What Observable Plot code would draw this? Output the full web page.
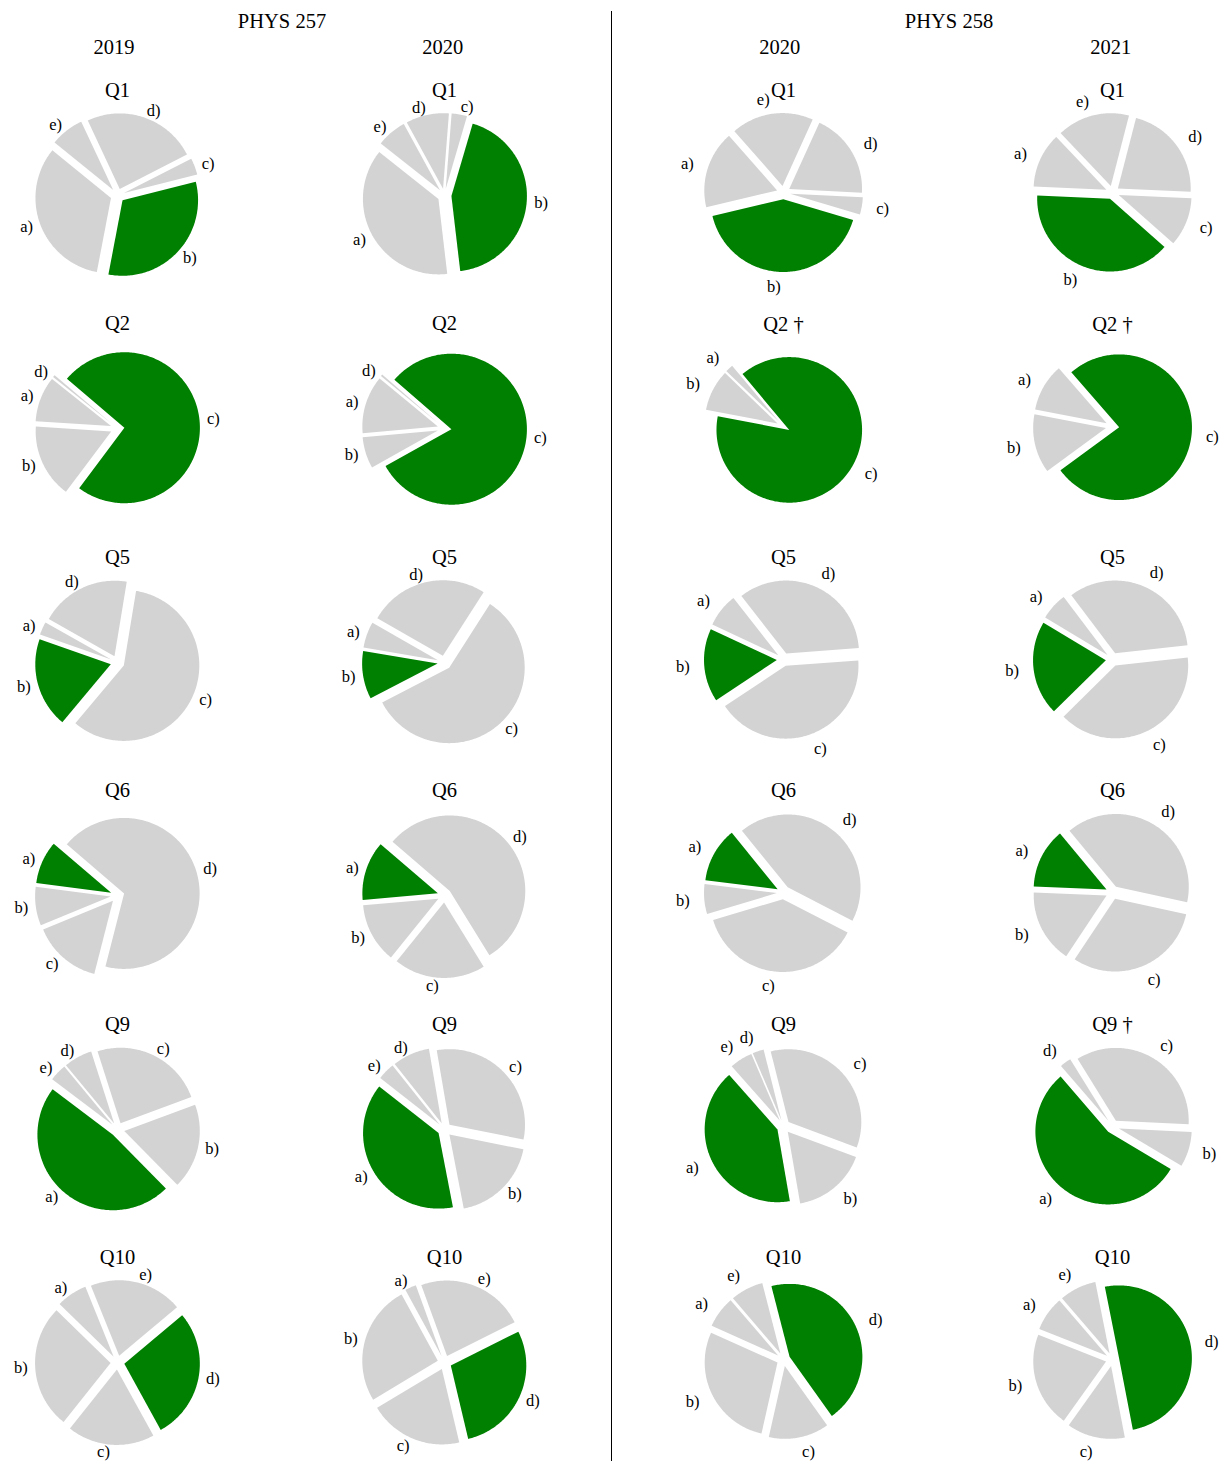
<!DOCTYPE html>
<html>
<head>
<meta charset="utf-8">
<script src="https://cdn.jsdelivr.net/npm/d3@7"></script>
<script src="https://cdn.jsdelivr.net/npm/@observablehq/plot@0.6"></script>
<style>
  body { margin: 0; background: #fff; }
  #chart { position: relative; width: 1222px; height: 1461px; font-family: "Liberation Serif", serif; color: #000; overflow: hidden; }
  .hdr { position: absolute; font-size: 20.5px; line-height: 1; white-space: nowrap; transform: translate(-50%, -50%); }
  .pie { position: absolute; width: 320px; height: 232px; }
  .pie svg { max-width: none !important; }
  #divider { position: absolute; left: 610.5px; top: 11px; width: 1.2px; height: 1450px; background: #000; }
</style>
</head>
<body>
<div id="chart"><div id="divider"></div></div>
<script>
// ---------------- data ----------------
const courses = ["PHYS 257", "PHYS 258"];
const columnCourse = [0, 0, 1, 1];
const columnYear = ["2019", "2020", "2020", "2021"];
const questions = ["Q1", "Q2", "Q5", "Q6", "Q9", "Q10"];
const daggerColumns = { Q2: [2, 3], Q9: [3] };
const options = ["a)", "b)", "c)", "d)", "e)"];
const correctAnswer = ["b)", "c)", "b)", "a)", "a)", "d)"];

// answer shares (%) per column: PHYS257 2019, PHYS257 2020, PHYS258 2020, PHYS258 2021
const sharesQ1  = [[32.8, 31.9, 3.6, 24.4, 7.2], [37.5, 43.6, 3.3, 9.2, 6.4], [17.2, 41.7, 3.8, 19.0, 18.3], [12.2, 39.2, 10.8, 21.7, 16.1]];
const sharesQ2  = [[9.7, 15.8, 74.0, 0.5], [12.4, 6.7, 80.5, 0.4], [1.7, 9.2, 89.1], [10.6, 13.1, 76.4]];
const sharesQ5  = [[2.8, 19.3, 58.5, 19.4], [5.6, 10.3, 58.3, 25.8], [7.5, 16.3, 41.9, 34.4], [6.1, 21.0, 39.4, 33.5]];
const sharesQ6  = [[9.2, 8.3, 14.8, 67.8], [12.7, 12.8, 19.6, 54.9], [12.2, 6.6, 37.8, 43.4], [13.3, 16.3, 30.9, 39.4]];
const sharesQ9  = [[47.7, 18.3, 24.3, 6.1, 3.7], [38.7, 18.8, 30.9, 8.0, 3.7], [41.2, 16.6, 34.6, 2.5, 5.1], [55.1, 7.8, 34.6, 2.5]];
const sharesQ10 = [[6.6, 26.6, 18.7, 28.1, 20.0], [2.4, 25.7, 20.1, 28.7, 23.2], [7.0, 28.2, 13.4, 44.2, 7.3], [7.7, 21.1, 12.9, 50.1, 8.2]];
const shares = [sharesQ1, sharesQ2, sharesQ5, sharesQ6, sharesQ9, sharesQ10];

// start angle (degrees, counter-clockwise from 3 o'clock) of slice a) in each pie
const startQ1  = [141, 141.7, 131.4, 133.5];
const startQ2  = [141.4, 140.5, 130, 131.1];
const startQ5  = [150.5, 150.2, 128, 127];
const startQ6  = [139.5, 139.3, 129, 129.7];
const startQ9  = [143, 141.8, 131.5, 130.8];
const startQ10 = [112, 110, 130.7, 130.8];
const starts = [startQ1, startQ2, startQ5, startQ6, startQ9, startQ10];

// ---------------- layout ----------------
const colX = [117.3, 444, 782.5, 1111.5];
const ROW_STEP = 233.4;
const titleY0 = 90;                  // title centre of the first row
const pieY0 = [195, 192.2];          // pie centre of the first row, per course
const radiusPx = [75.5, 72.8];       // pie radius per course
const labelDist = [1.1, 1.2];        // label distance (radii) per course
const EXPLODE = 0.092;               // radial offset of every wedge (radii)
const courseX = [282, 949];
const yearX = [113.9, 442.8, 779.8, 1110.8];
const W = 320, H = 232, CX = 160, CY = 118;
const GREEN = "green", GRAY = "lightgray";

const chart = document.getElementById("chart");

courses.forEach((c, i) => {
  const d = document.createElement("div");
  d.className = "hdr"; d.textContent = c;
  d.style.left = courseX[i] + "px"; d.style.top = "21px";
  chart.appendChild(d);
});
columnYear.forEach((y, i) => {
  const d = document.createElement("div");
  d.className = "hdr"; d.textContent = y;
  d.style.left = yearX[i] + "px"; d.style.top = "46.5px";
  chart.appendChild(d);
});

function buildPie(values, start, correct, ld) {
  const total = d3.sum(values);
  let acc = 0;
  const pts = [], labels = [];
  values.forEach((v, i) => {
    const a0 = start + 360 * acc / total;
    acc += v;
    const a1 = start + 360 * acc / total;
    const am = (a0 + a1) / 2 * Math.PI / 180;
    const ox = EXPLODE * Math.cos(am), oy = EXPLODE * Math.sin(am);
    const color = options[i] === correct ? GREEN : GRAY;
    pts.push({ slice: i, x: ox, y: oy, color });
    const n = Math.max(2, Math.ceil(a1 - a0));
    for (let k = 0; k <= n; k++) {
      const t = (a0 + (a1 - a0) * k / n) * Math.PI / 180;
      pts.push({ slice: i, x: ox + Math.cos(t), y: oy + Math.sin(t), color });
    }
    labels.push({ text: options[i], x: ox + ld * Math.cos(am), y: oy + ld * Math.sin(am) });
  });
  return { pts, labels };
}

questions.forEach((q, r) => {
  columnYear.forEach((yr, c) => {
    const k = columnCourse[c];
    const R = radiusPx[k];
    const pieY = pieY0[k] + ROW_STEP * r;
    const titleY = titleY0 + ROW_STEP * r;
    const { pts, labels } = buildPie(shares[r][c], starts[r][c], correctAnswer[r], labelDist[k]);
    const title = q + ((daggerColumns[q] || []).includes(c) ? " \u2020" : "");
    const svg = Plot.plot({
      width: W, height: H, margin: 0,
      x: { domain: [-CX / R, (W - CX) / R], range: [0, W], axis: null },
      y: { domain: [-(H - CY) / R, CY / R], range: [H, 0], axis: null },
      color: { type: "identity" },
      style: { overflow: "visible", fontFamily: "'Liberation Serif', serif", background: "transparent", color: "#000", maxWidth: "none", width: W + "px", height: H + "px" },
      marks: [
        Plot.line(pts, { x: "x", y: "y", z: "slice", fill: "color", stroke: "none", curve: "linear" }),
        Plot.text(labels.filter(d => d.x > 0), { x: "x", y: "y", text: "text", textAnchor: "start", fontSize: 16.5, fill: "#000" }),
        Plot.text(labels.filter(d => d.x <= 0), { x: "x", y: "y", text: "text", textAnchor: "end", fontSize: 16.5, fill: "#000" }),
        Plot.text([title], { frameAnchor: "top", lineAnchor: "middle", text: d => d, dy: CY - (pieY - titleY), fontSize: 20.5, fill: "#000" })
      ]
    });
    const holder = document.createElement("div");
    holder.className = "pie";
    holder.style.left = (colX[c] - CX) + "px";
    holder.style.top = (pieY - CY) + "px";
    holder.appendChild(svg);
    chart.appendChild(holder);
  });
});
</script>
</body>
</html>
